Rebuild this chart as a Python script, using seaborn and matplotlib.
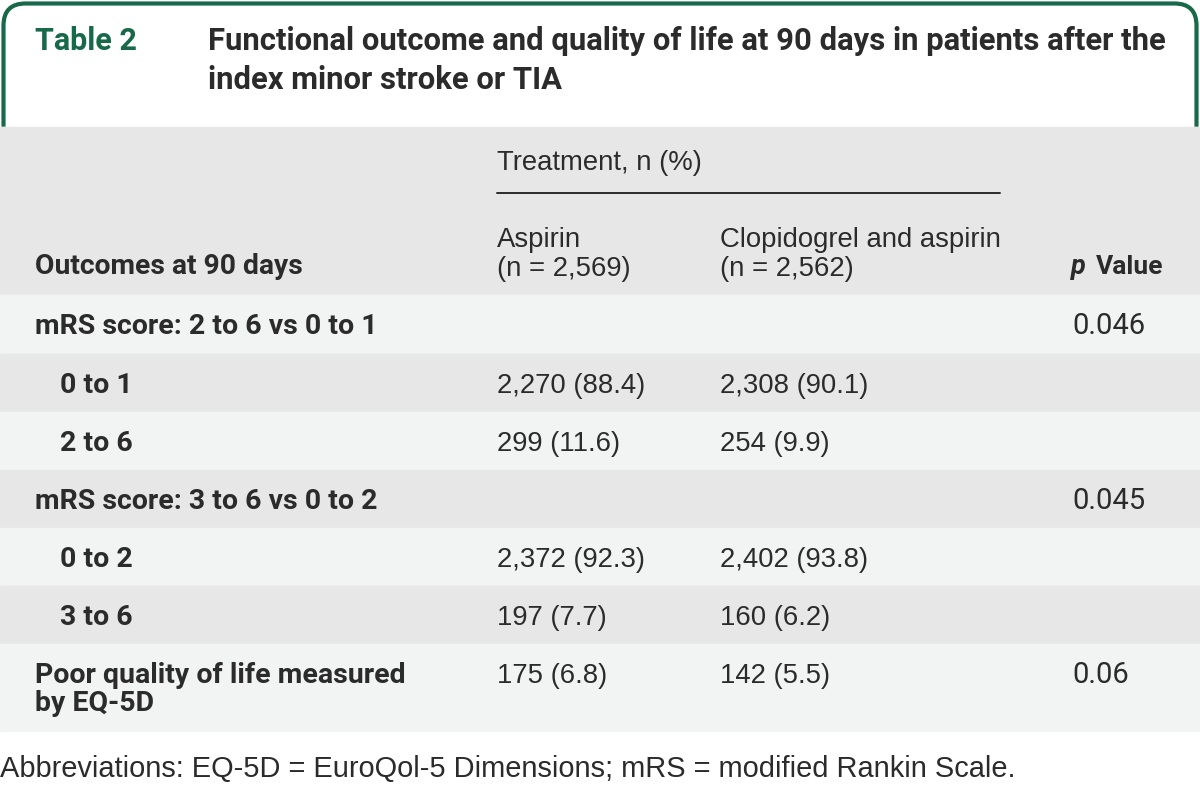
import matplotlib.pyplot as plt
import seaborn as sns
from matplotlib.patches import FancyBboxPatch

sns.set_theme(style="white")

# Table content
table_label = "Table 2"
title_lines = [
    "Functional outcome and quality of life at 90 days in patients after the",
    "index minor stroke or TIA",
]
group_header = "Treatment, n (%)"
col_headers = [["Aspirin", "(n = 2,569)"], ["Clopidogrel and aspirin", "(n = 2,562)"]]
first_col_header = "Outcomes at 90 days"

row_labels = [
    ["mRS score: 2 to 6 vs 0 to 1"],
    ["0 to 1"],
    ["2 to 6"],
    ["mRS score: 3 to 6 vs 0 to 2"],
    ["0 to 2"],
    ["3 to 6"],
    ["Poor quality of life measured", "by EQ-5D"],
]
row_indented = [False, True, True, False, True, True, False]
aspirin_vals = ["", "2,270 (88.4)", "299 (11.6)", "", "2,372 (92.3)", "197 (7.7)", "175 (6.8)"]
combo_vals = ["", "2,308 (90.1)", "254 (9.9)", "", "2,402 (93.8)", "160 (6.2)", "142 (5.5)"]
p_values = ["0.046", "", "", "0.045", "", "", "0.06"]
footnote = "Abbreviations: EQ-5D = EuroQol-5 Dimensions; mRS = modified Rankin Scale."

GREEN = "#17694a"
DARK = "#2b2b2b"
BAND_DARK = "#e7e7e7"
BAND_LIGHT = "#f2f3f3"
GEO = ["Roboto", "DejaVu Sans"]
NARROW = ["Liberation Sans", "DejaVu Sans"]

fig = plt.figure(figsize=(12, 7.88), dpi=100)
ax = fig.add_axes([0, 0, 1, 1])
ax.set_xlim(0, 1200)
ax.set_ylim(788, 0)
ax.axis("off")


def put(x, y, s, size, family=GEO, weight="normal", color=DARK, style="normal"):
    ax.text(x, y, s, fontsize=size, family=family, fontweight=weight, color=color,
            fontstyle=style, va="baseline", ha="left", zorder=5)


# green rounded frame around the title, open at the bottom
frame = FancyBboxPatch((3.5, 3.5), 1193, 170, boxstyle="round,pad=0,rounding_size=22",
                       fill=False, edgecolor=GREEN, linewidth=3, zorder=1)
ax.add_patch(frame)
ax.axhspan(127, 790, color="white", zorder=2)

put(35, 50, table_label, 22, weight="bold", color=GREEN)
for i, line in enumerate(title_lines):
    put(208, 50 + i * 39, line, 22.3, weight="bold")

# header band
ax.axhspan(127, 295, color=BAND_DARK, zorder=3)
put(497, 170, group_header, 19.8, family=NARROW)
ax.plot([497, 1000], [193, 193], color=DARK, lw=1.4, zorder=5)
for x, lines in zip([497, 720], col_headers):
    for j, line in enumerate(lines):
        put(x, 247 + j * 29, line, 19.8, family=NARROW)
put(35, 274, first_col_header, 20.3, weight="bold")
put(1071, 274, "p", 19.5, weight="bold", style="italic")
put(1096, 274, "Value", 19, weight="bold")

# body rows with alternating bands
row_tops = [295, 354, 412, 470, 528, 586, 644]
row_heights = [59, 58, 58, 58, 58, 58, 87]
for i, lines in enumerate(row_labels):
    top = row_tops[i]
    ax.axhspan(top, top + row_heights[i], color=BAND_LIGHT if i % 2 == 0 else BAND_DARK, zorder=3)
    base = top + 39
    x = 60 if row_indented[i] else 35
    for j, line in enumerate(lines):
        put(x, base + j * 28, line, 20.5, weight="bold")
    put(497, base, aspirin_vals[i], 19.8, family=NARROW)
    put(720, base, combo_vals[i], 19.8, family=NARROW)
    put(1072, base, p_values[i], 21)

put(0, 777, footnote, 20.9, family=NARROW)

fig.savefig("out.png", dpi=100)
